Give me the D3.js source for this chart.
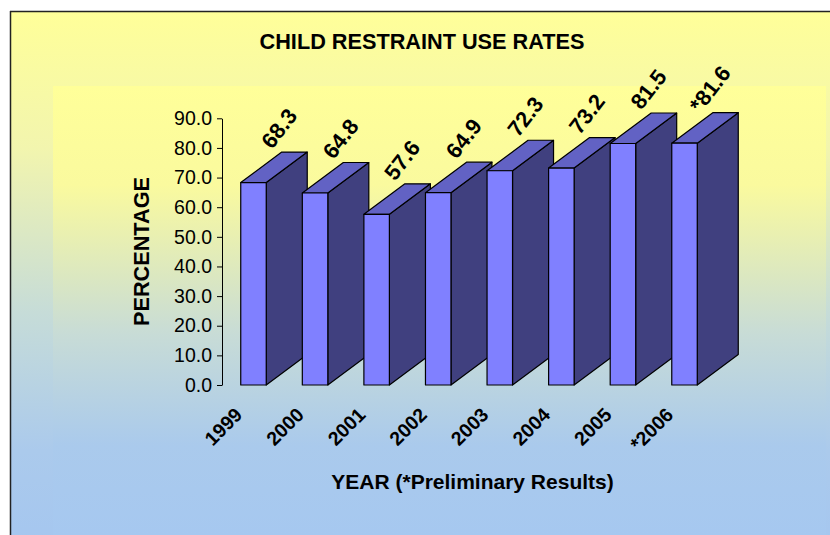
<!DOCTYPE html>
<html>
<head>
<meta charset="utf-8">
<script src="https://cdn.jsdelivr.net/npm/d3@7"></script>
<style>
html,body{margin:0;padding:0;background:#fff;}
svg{display:block;}
text{font-family:"Liberation Sans",Arial,sans-serif;fill:#000;}
</style>
</head>
<body>
<svg id="chart" width="830" height="535"></svg>
<script>
const years = ["1999","2000","2001","2002","2003","2004","2005","*2006"];
const rates = [68.3, 64.8, 57.6, 64.9, 72.3, 73.2, 81.5, 81.6];
const rateLabels = ["68.3","64.8","57.6","64.9","72.3","73.2","81.5","*81.6"];
const yTicks = [0,10,20,30,40,50,60,70,80,90];
const title = "CHILD RESTRAINT USE RATES";
const yTitle = "PERCENTAGE";
const xTitle = "YEAR (*Preliminary Results)";

const svg = d3.select("#chart");
const W = 830, H = 535;
const defs = svg.append("defs");

function grad(id, y1, y2, stops){
  const g = defs.append("linearGradient").attr("id", id)
    .attr("gradientUnits","userSpaceOnUse")
    .attr("x1",0).attr("x2",0).attr("y1",y1).attr("y2",y2);
  stops.forEach(s => g.append("stop").attr("offset", s[0]).attr("stop-color", s[1]));
}
grad("outerG", 11, 560, [[0,"#FFFF99"],[0.25,"#F2F5AE"],[0.55,"#C6DCD8"],[0.8,"#ABCAEC"],[1,"#A4C6F0"]]);
grad("innerG", 86, 535, [[0,"#FFFF99"],[0.22,"#FAFA9E"],[0.55,"#C8DCD6"],[0.8,"#AACAEC"],[1,"#A6C8F0"]]);

// outer chart area
svg.append("rect").attr("x",10).attr("y",11).attr("width",W-10).attr("height",H-11)
  .attr("fill","url(#outerG)");
// plot area
svg.append("rect").attr("x",53).attr("y",86).attr("width",773).attr("height",H-86)
  .attr("fill","url(#innerG)");
// border lines
svg.append("line").attr("x1",10).attr("x2",W).attr("y1",11.5).attr("y2",11.5)
  .attr("stroke","#222").attr("stroke-width",1.5);
svg.append("line").attr("x1",10.5).attr("x2",10.5).attr("y1",11).attr("y2",H)
  .attr("stroke","#222").attr("stroke-width",1.5);

// scales
const x = d3.scaleBand().domain(years).range([222.7, 715.3]).paddingInner(0.586).paddingOuter(0.293);
const y = d3.scaleLinear().domain([0, 90]).range([385, 118.3]);
const DX = 41, DY = 30.5;

// y axis
const yAxis = d3.axisLeft(y).tickValues(yTicks).tickFormat(d3.format(".1f"))
  .tickSize(5).tickSizeOuter(0).tickPadding(5);
const ga = svg.append("g").attr("transform","translate(222,0)").call(yAxis);
ga.selectAll("path,line").attr("stroke","#000").attr("stroke-width",1);
ga.selectAll("text").attr("font-size","19.5px").attr("fill","#000")
  .attr("font-family","'Liberation Sans',Arial,sans-serif");

// bars
const bars = svg.append("g");
years.forEach((yr, i) => {
  const x0 = x(yr), w = x.bandwidth();
  const x1 = x0 + w;
  const yt = y(rates[i]), yb = y(0);
  const g = bars.append("g").attr("stroke","#000").attr("stroke-width",1.2).attr("stroke-linejoin","round");
  // side face
  g.append("path").attr("fill","#40407F")
    .attr("d", `M${x1},${yb} L${x1+DX},${yb-DY} L${x1+DX},${yt-DY} L${x1},${yt} Z`);
  // top face
  g.append("path").attr("fill","#6262C4")
    .attr("d", `M${x0},${yt} L${x0+DX},${yt-DY} L${x1+DX},${yt-DY} L${x1},${yt} Z`);
  // front face
  g.append("rect").attr("fill","#8080FF")
    .attr("x", x0).attr("y", yt).attr("width", w).attr("height", yb - yt);
});

// data labels
years.forEach((yr, i) => {
  const cx = x(yr) + x.bandwidth()/2 + DX/2 + 5;
  const cy = y(rates[i]) - DY/2 - 39;
  svg.append("text").attr("transform", `translate(${cx},${cy}) rotate(-52)`)
    .attr("text-anchor","middle").attr("dy","0.35em")
    .attr("font-size","22px").attr("font-weight","bold")
    .text(rateLabels[i]);
});

// category labels
years.forEach((yr) => {
  const ex = x(yr) + x.bandwidth()/2 - 10;
  const ey = y(0) + 31;
  svg.append("text").attr("transform", `translate(${ex},${ey}) rotate(-45)`)
    .attr("text-anchor","end")
    .attr("font-size","19.5px").attr("font-weight","bold")
    .text(yr);
});

// titles
svg.append("text").attr("x",422).attr("y",49).attr("text-anchor","middle")
  .attr("font-size","21.7px").attr("font-weight","bold").text(title);
svg.append("text").attr("transform","translate(149,251.5) rotate(-90)").attr("text-anchor","middle")
  .attr("font-size","21.7px").attr("font-weight","bold").text(yTitle);
svg.append("text").attr("x",472.5).attr("y",489).attr("text-anchor","middle")
  .attr("font-size","21px").attr("font-weight","bold").text(xTitle);
</script>
</body>
</html>
